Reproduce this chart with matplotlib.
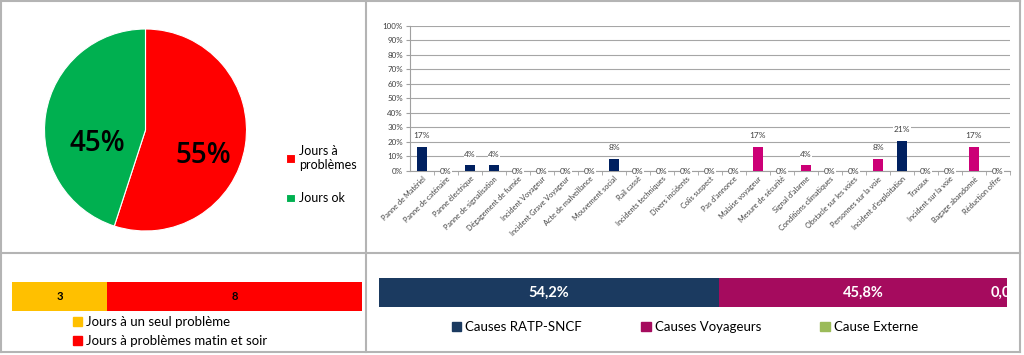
import matplotlib
matplotlib.use('Agg')
import matplotlib.pyplot as plt
from matplotlib.lines import Line2D
from matplotlib.patches import Patch

plt.rcParams['font.family'] = ['Lato', 'DejaVu Sans']

# pie: days with / without problems
pie_labels = ['Jours à\nproblèmes', 'Jours ok']
pie_values = [11, 9]
pie_colors = ['#FF0000', '#00B050']

# incidents by cause (count out of 24)
causes = ['Panne de Matériel', 'Panne de caténaire', 'Panne électrique',
          'Panne de signalisation', 'Dégagement de fumée', 'Incident Voyageur',
          'Incident Grave Voyageur', 'Acte de malveillance', 'Mouvement social',
          'Rail cassé', 'Incidents techniques', 'Divers incidents', 'Colis suspect',
          "Pas d'annonce", 'Malaise voyageur', 'Mesure de sécurité',
          "Signal d'alarme", 'Conditions climatiques', 'Obstacle sur les voies',
          'Personnes sur la voie', "Incident d'exploitation", 'Travaux',
          'Incident sur la voie', 'Bagage abandonné', 'Réduction offre']
cause_counts = [4, 0, 1, 1, 0, 0, 0, 0, 2, 0, 0, 0, 0, 0, 4, 0, 1, 0, 0, 2, 5, 0, 0, 4, 0]
cause_group = ['R', 'R', 'R', 'R', 'R', 'V', 'V', 'V', 'R', 'R', 'R', 'R', 'V', 'R',
               'V', 'V', 'V', 'E', 'V', 'V', 'R', 'R', 'R', 'V', 'R']
total_incidents = 24

# problem type days
days_labels = ['Jours à un seul problème', 'Jours à problèmes matin et soir']
days_values = [3, 8]
days_colors = ['#FFC000', '#FF0000']

# share by cause family
family_labels = ['Causes RATP-SNCF', 'Causes Voyageurs', 'Cause Externe']
family_values = [54.2, 45.8, 0.0]
family_colors = ['#1B3A60', '#A50B5E', '#9BBB59']

W, H = 1024, 355
fig = plt.figure(figsize=(W / 100, H / 100), dpi=100)


def box(x0, y0, x1, y1):
    # pixel box (top-left origin) -> figure fraction
    return [x0 / W, 1 - y1 / H, (x1 - x0) / W, (y1 - y0) / H]


# panel borders
border = '#B4B4B4'
for xs, ys in [([0.5, 0.5], [0, 352]), ([1019.5, 1019.5], [0, 352]),
               ([0, 1020], [0.7, 0.7]), ([0, 1020], [351.5, 351.5]),
               ([366, 366], [0, 352]), ([0, 1020], [253, 253])]:
    fig.add_artist(Line2D([x / W for x in xs], [1 - y / H for y in ys],
                          color=border, lw=1.5))

# --- pie ---
ax1 = fig.add_axes(box(44.5, 29, 246.5, 231))
wedges, _ = ax1.pie(pie_values, colors=pie_colors, startangle=90, counterclock=False,
                    wedgeprops=dict(linewidth=0.8, edgecolor='white'))
pct = [v * 100 / sum(pie_values) for v in pie_values]
ax1.text(0.57, -0.25, '%d%%' % round(pct[0]), ha='center', va='center', fontsize=20,
         family='Open Sans', fontweight='semibold')
ax1.text(-0.48, -0.13, '%d%%' % round(pct[1]), ha='center', va='center', fontsize=20,
         family='Open Sans', fontweight='semibold')
ax1.set_xlim(-1, 1)
ax1.set_ylim(-1, 1)
leg = fig.legend(wedges, pie_labels, loc='upper left', bbox_to_anchor=(275 / W, 1 - 134 / H),
                 frameon=False, fontsize=9, handlelength=0.7, handleheight=0.7,
                 handletextpad=0.3, labelspacing=1.7)

# --- bar chart of causes ---
ax2 = fig.add_axes(box(410, 25.7, 1010, 171))
pcts = [c / total_incidents for c in cause_counts]
bar_cols = ['#002060' if g == 'R' else '#CC0077' for g in cause_group]
x = list(range(len(causes)))
ax2.bar(x, pcts, width=0.4, color=bar_cols, zorder=3)
for xi, p in zip(x, pcts):
    off = 0.075 if p > 0 else 0.0
    ax2.text(xi, p + off, '%d%%' % round(p * 100), ha='center', va='center',
             fontsize=6, color='#404040', zorder=4,
             bbox=dict(facecolor='white', edgecolor='none', pad=0.3))
ax2.set_xlim(-0.5, len(causes) - 0.5)
ax2.set_ylim(0, 1)
ax2.set_yticks([i / 10 for i in range(11)])
ax2.set_yticklabels(['%d%%' % (i * 10) for i in range(11)], fontsize=5.8, color='#404040')
ax2.set_xticks(x)
ax2.set_xticklabels(causes, rotation=45, ha='right', rotation_mode='anchor',
                    fontsize=5.3, color='#404040')
ax2.tick_params(axis='x', length=0, pad=3)
ax2.set_xticks([i + 0.5 for i in x], minor=True)
ax2.tick_params(axis='x', which='minor', length=3, color='#A0A0A0')
ax2.tick_params(axis='y', length=3, color='#A0A0A0', pad=2)
ax2.grid(axis='y', color='#A6A6A6', lw=0.8, zorder=0)
for s in ['top', 'right']:
    ax2.spines[s].set_visible(False)
ax2.spines['left'].set_color('#A0A0A0')
ax2.spines['bottom'].set_color('#A0A0A0')
ax2.spines['bottom'].set_zorder(2)

# --- days bar ---
ax3 = fig.add_axes(box(12, 282, 362, 311))
left = 0
for v, c in zip(days_values, days_colors):
    ax3.barh(0, v, left=left, color=c, height=1)
    ax3.text(left + v / 2, 0, str(v), ha='center', va='center', fontsize=8, fontweight='bold')
    left += v
ax3.set_xlim(0, sum(days_values))
ax3.set_ylim(-0.5, 0.5)
ax3.axis('off')
fig.legend([Patch(color=c) for c in days_colors], days_labels, loc='upper left',
           bbox_to_anchor=(61 / W, 1 - 304 / H), frameon=False, fontsize=9.5,
           handlelength=0.7, handleheight=0.7, handletextpad=0.3, labelspacing=0.55)

# --- cause families bar ---
ax4 = fig.add_axes(box(379, 278, 1007, 307))
left = 0
for v, c in zip(family_values, family_colors):
    ax4.barh(0, v, left=left, color=c, height=1)
    ax4.text(left + v / 2, 0, ('%.1f%%' % v).replace('.', ','), ha='center', va='center',
             fontsize=10.5, fontweight='bold', color='white', clip_on=True)
    left += v
ax4.set_xlim(0, 100)
ax4.set_ylim(-0.5, 0.5)
ax4.axis('off')
fig.legend([Patch(color=c) for c in family_colors], family_labels, loc='center',
           bbox_to_anchor=(685 / W, 1 - 327 / H), ncol=3, frameon=False, fontsize=9.5,
           handlelength=0.7, handleheight=0.7, handletextpad=0.3, columnspacing=4.5)

fig.savefig('out.png', dpi=100)
